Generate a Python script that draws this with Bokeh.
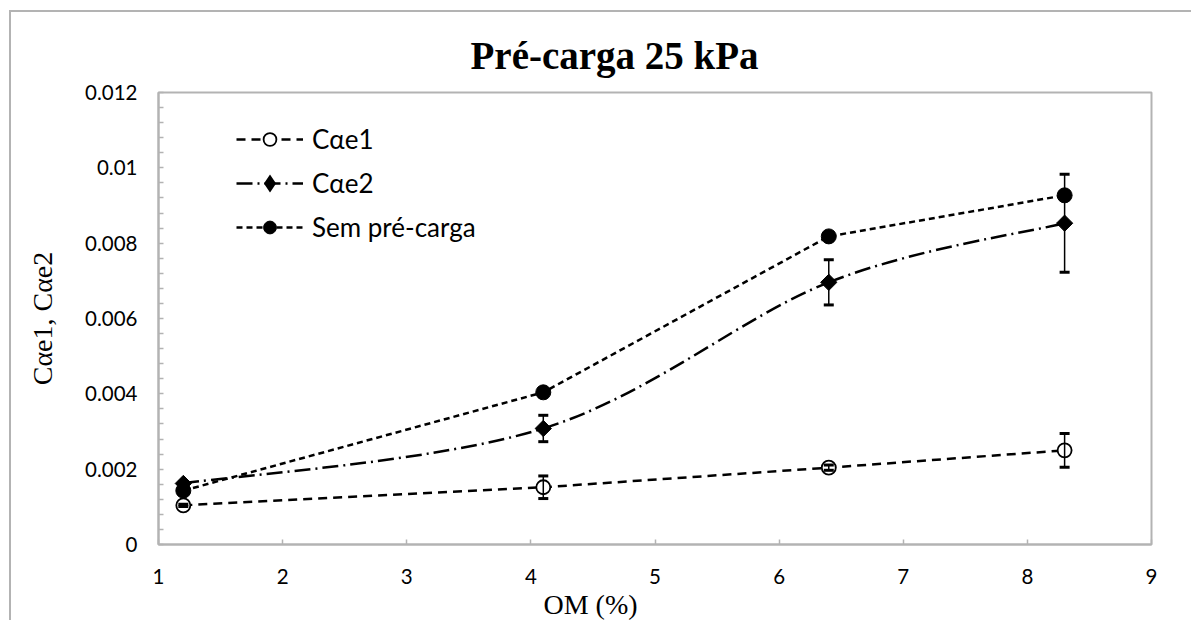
import math
from bokeh.plotting import figure
from bokeh.models import (ColumnDataSource, Whisker, TeeHead, Legend, LegendItem,
                          Title, FixedTicker)
from bokeh.embed import file_html
from bokeh.resources import INLINE

# ---------------- data ----------------
om = [1.2, 4.1, 6.4, 8.3]
cae1 = [0.00104, 0.00152, 0.00204, 0.00250]
cae1_err = [0.00003, 0.00030, 0.00007, 0.00045]
cae2 = [0.00162, 0.00308, 0.00696, 0.00853]
cae2_err = [0.00004, 0.00035, 0.00060, 0.00130]
sem = [0.00143, 0.00404, 0.00818, 0.00927]

x_ticks = [1, 2, 3, 4, 5, 6, 7, 8, 9]
y_ticks = [0, 0.002, 0.004, 0.006, 0.008, 0.01, 0.012]
y_tick_labels = ["0", "0.002", "0.004", "0.006", "0.008", "0.01", "0.012"]
y_minor_ticks = [0.0004, 0.0008, 0.0012, 0.0016, 0.0024, 0.0028, 0.0032, 0.0036,
                 0.0044, 0.0048, 0.0052, 0.0056, 0.0064, 0.0068, 0.0072, 0.0076,
                 0.0084, 0.0088, 0.0092, 0.0096, 0.0104, 0.0108, 0.0112, 0.0116]

title_text = "Pré-carga 25 kPa"
x_title = "OM (%)"
y_title = "Cαe1, Cαe2"
names = ["Cαe1", "Cαe2", "Sem pré-carga"]

GRAY = "#b3b3b3"
TICK_FONT = "Lato"
SERIF = "Liberation Serif"

# ---------------- figure ----------------
p = figure(width=1182, height=610, x_range=(1, 9), y_range=(0, 0.012),
           output_backend="svg", toolbar_location=None,
           min_border_left=147, min_border_right=42,
           min_border_top=80, min_border_bottom=78)
p.styles = {"margin-left": "9px", "margin-top": "10px",
            "border-left": "2px solid " + GRAY, "border-top": "2px solid " + GRAY}
p.background_fill_color = "white"
p.border_fill_color = "white"
p.xgrid.visible = False
p.ygrid.visible = False
p.outline_line_color = GRAY
p.outline_line_width = 2

for ax in (p.xaxis[0], p.yaxis[0]):
    ax.axis_line_color = GRAY
    ax.axis_line_width = 2
    ax.major_tick_line_color = GRAY
    ax.major_tick_line_width = 1.5
    ax.major_tick_in = 5
    ax.major_tick_out = 0
    ax.major_label_text_font = TICK_FONT
    ax.major_label_text_font_size = "20.5px"
    ax.major_label_text_color = "black"

p.xaxis.ticker = FixedTicker(ticks=x_ticks)
p.xaxis.minor_tick_line_color = None
p.xaxis.major_label_standoff = 24

p.yaxis.ticker = FixedTicker(ticks=y_ticks, minor_ticks=y_minor_ticks)
p.yaxis.major_label_overrides = dict(zip(y_ticks, y_tick_labels))
p.yaxis.minor_tick_line_color = GRAY
p.yaxis.minor_tick_line_width = 1.5
p.yaxis.minor_tick_in = 5
p.yaxis.minor_tick_out = 0
p.yaxis.major_label_standoff = 21
p.yaxis.axis_label = y_title
p.yaxis.axis_label_text_font = SERIF
p.yaxis.axis_label_text_font_style = "normal"
p.yaxis.axis_label_text_font_size = "28px"
p.yaxis.axis_label_text_color = "black"
p.yaxis.axis_label_standoff = 24

# ---------------- titles ----------------
p.title = Title(text=title_text, text_font=SERIF, text_font_style="bold",
                text_font_size="39px", text_color="black",
                align="left", offset=312, standoff=32)
p.add_layout(Title(text=x_title, text_font=SERIF, text_font_style="normal",
                   text_font_size="28px", text_color="black",
                   align="left", offset=385, standoff=0), "below")

# ---------------- smoothed Cαe2 curve (Bezier through the data points) ----------------
n = len(om)
px = [om[0]] + om + [om[-1]]
py = [cae2[0]] + cae2 + [cae2[-1]]
bz = dict(x0=[], y0=[], x1=[], y1=[], cx0=[], cy0=[], cx1=[], cy1=[])
for i in range(n - 1):
    a, b, c, d = i, i + 1, i + 2, i + 3
    bz["x0"].append(px[b]); bz["y0"].append(py[b])
    bz["x1"].append(px[c]); bz["y1"].append(py[c])
    bz["cx0"].append(px[b] + (px[c] - px[a]) / 6.0)
    bz["cy0"].append(py[b] + (py[c] - py[a]) / 6.0)
    bz["cx1"].append(px[c] - (px[d] - px[b]) / 6.0)
    bz["cy1"].append(py[c] - (py[d] - py[b]) / 6.0)

LW = 2.5
r1_line = p.line(om, cae1, line_color="black", line_width=LW, line_dash="9 6")
r2_line = p.bezier(x0="x0", y0="y0", x1="x1", y1="y1", cx0="cx0", cy0="cy0",
                   cx1="cx1", cy1="cy1", source=ColumnDataSource(bz),
                   line_color="black", line_width=LW, line_dash="16 5 2 5")
r3_line = p.line(om, sem, line_color="black", line_width=LW, line_dash="6 4")

r1_m = p.scatter(om, cae1, marker="circle", size=14, fill_color="white",
                 line_color="black", line_width=1.8)
r2_m = p.scatter(om, cae2, marker="square", angle=math.pi / 4, size=11.5,
                 fill_color="black", line_color="black")
r3_m = p.scatter(om, sem, marker="circle", size=15, fill_color="black",
                 line_color="black")
# legend-only proxy for the diamond symbol (legend markers are never rotated)
r2_proxy = p.scatter([float("nan")], [float("nan")], marker="diamond",
                     fill_color="black", line_color="black", line_width=3,
                     line_join="miter")

# ---------------- error bars ----------------
def add_err(vals, errs):
    src = ColumnDataSource(dict(x=om,
                                upper=[v + e for v, e in zip(vals, errs)],
                                lower=[v - e for v, e in zip(vals, errs)]))
    w = Whisker(source=src, base="x", upper="upper", lower="lower",
                line_color="black", line_width=1.5, level="overlay",
                upper_head=TeeHead(size=10, line_width=3, line_color="black"),
                lower_head=TeeHead(size=10, line_width=3, line_color="black"))
    p.add_layout(w)

add_err(cae1, cae1_err)
add_err(cae2, cae2_err)

# ---------------- legend ----------------
legend = Legend(items=[LegendItem(label=names[0], renderers=[r1_line, r1_m]),
                       LegendItem(label=names[1], renderers=[r2_line, r2_proxy]),
                       LegendItem(label=names[2], renderers=[r3_line, r3_m])],
                location=(78, 301), orientation="vertical",
                glyph_width=67, glyph_height=32, label_height=32, spacing=12,
                label_standoff=9, padding=0, margin=0,
                border_line_alpha=0, background_fill_alpha=0,
                label_text_font=TICK_FONT, label_text_font_size="26px",
                label_text_color="black")
p.add_layout(legend)

open("out.html", "w").write(file_html(p, INLINE))
